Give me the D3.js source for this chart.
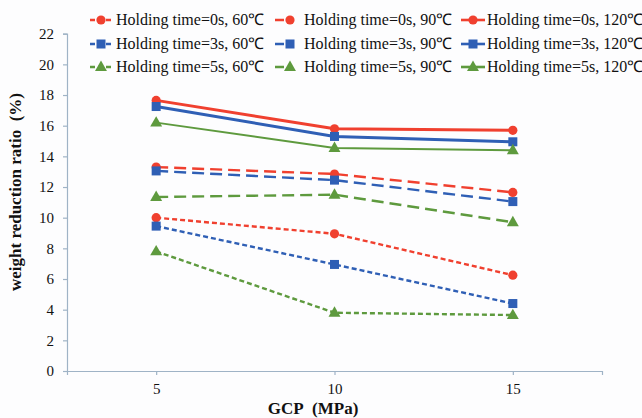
<!DOCTYPE html>
<html>
<head>
<meta charset="utf-8">
<script src="https://cdn.jsdelivr.net/npm/d3@7"></script>
<style>
  body { margin: 0; background: #fdfdfe; }
  svg { display: block; font-family: "Liberation Serif", "Times New Roman", serif; }
</style>
</head>
<body>
<svg id="chart" width="642" height="418"></svg>
<script>
// categories on the x axis (GCP, MPa)
var gcp = [5, 10, 15];

// weight reduction ratio (%) per holding time and temperature
var t0s60 = [10.0, 8.95, 6.25];
var t3s60 = [9.45, 6.95, 4.4];
var t5s60 = [7.8, 3.8, 3.65];
var t0s90 = [13.3, 12.85, 11.65];
var t3s90 = [13.05, 12.45, 11.05];
var t5s90 = [11.35, 11.5, 9.7];
var t0s120 = [17.65, 15.8, 15.7];
var t3s120 = [17.25, 15.3, 14.95];
var t5s120 = [16.2, 14.55, 14.4];

var yTicks = [0, 2, 4, 6, 8, 10, 12, 14, 16, 18, 20, 22];

var red = "#f0402f", blue = "#2f5fb5", green = "#5e9a3e";

// series list, legend is read in this order (row by row)
var series = [
  {name: "Holding time=0s, 60\u2103", values: t0s60, color: red, shape: "circle", dash: "5,3", row: 0, col: 0},
  {name: "Holding time=0s, 90\u2103", values: t0s90, color: red, shape: "circle", dash: "12,6", row: 0, col: 1},
  {name: "Holding time=0s, 120\u2103", values: t0s120, color: red, shape: "circle", dash: null, row: 0, col: 2},
  {name: "Holding time=3s, 60\u2103", values: t3s60, color: blue, shape: "square", dash: "5,3", row: 1, col: 0},
  {name: "Holding time=3s, 90\u2103", values: t3s90, color: blue, shape: "square", dash: "12,6", row: 1, col: 1},
  {name: "Holding time=3s, 120\u2103", values: t3s120, color: blue, shape: "square", dash: null, row: 1, col: 2},
  {name: "Holding time=5s, 60\u2103", values: t5s60, color: green, shape: "triangle", dash: "5,3", row: 2, col: 0},
  {name: "Holding time=5s, 90\u2103", values: t5s90, color: green, shape: "triangle", dash: "12,6", row: 2, col: 1},
  {name: "Holding time=5s, 120\u2103", values: t5s120, color: green, shape: "triangle", dash: null, row: 2, col: 2}
];

var svg = d3.select("#chart");

// plot area
var plotLeft = 67, plotRight = 602, plotTop = 33.7, plotBottom = 371;

var x = d3.scalePoint()
  .domain(gcp)
  .range([plotLeft, plotRight])
  .padding(0.5);

var y = d3.scaleLinear()
  .domain([0, 22])
  .range([plotBottom, plotTop]);

// y axis
var yAxis = svg.append("g")
  .attr("transform", "translate(" + plotLeft + ",0)")
  .call(d3.axisLeft(y).tickValues(yTicks).tickSize(4).tickPadding(9));

// x axis
var xAxis = svg.append("g")
  .attr("transform", "translate(0," + plotBottom + ")")
  .call(d3.axisBottom(x).tickSize(4).tickPadding(8).tickSizeOuter(4));

svg.selectAll(".tick text")
  .style("font-family", "'Liberation Serif', serif")
  .style("font-size", "15px")
  .attr("fill", "#111");
svg.selectAll(".domain, .tick line").attr("stroke", "#9fb3c6").attr("stroke-width", 1.2);

// axis titles
svg.append("text")
  .attr("x", 313).attr("y", 414)
  .attr("text-anchor", "middle")
  .style("font-size", "17px").style("font-weight", "bold")
  .attr("fill", "#111")
  .text("GCP\u00a0\u00a0(MPa)");

svg.append("text")
  .attr("transform", "translate(21,192) rotate(-90)")
  .attr("text-anchor", "middle")
  .style("font-size", "17px").style("font-weight", "bold")
  .attr("fill", "#111")
  .text("weight reduction ratio\u00a0\u00a0(%)");

// draws one marker
function marker(g, shape, color, cx, cy) {
  if (shape == "circle") {
    g.append("circle").attr("cx", cx).attr("cy", cy).attr("r", 4.6).attr("fill", color);
  } else if (shape == "square") {
    g.append("rect").attr("x", cx - 4.5).attr("y", cy - 4.5)
      .attr("width", 9).attr("height", 9).attr("fill", color);
  } else {
    g.append("path")
      .attr("d", d3.symbol(d3.symbolTriangle, 62)())
      .attr("transform", "translate(" + cx + "," + (cy + 0.5) + ")")
      .attr("fill", color);
  }
}

var line = d3.line()
  .x(function(d, i) { return x(gcp[i]); })
  .y(function(d) { return y(d); });

// lines and markers
series.forEach(function(s) {
  var g = svg.append("g");
  g.append("path")
    .attr("d", line(s.values))
    .attr("fill", "none")
    .attr("stroke", s.color)
    .attr("stroke-width", s.dash ? 2.4 : (s.color == green ? 2 : 3))
    .attr("stroke-dasharray", s.dash);
  s.values.forEach(function(v, i) {
    marker(g, s.shape, s.color, x(gcp[i]), y(v));
  });
});

// legend
var colX = [[90, 112, 101, 116], [275, 292, 290, 304], [461, 485, 473, 487]];
var rowY = [20, 44, 67];
series.forEach(function(s) {
  var c = colX[s.col], ly = rowY[s.row];
  var g = svg.append("g");
  g.append("line")
    .attr("x1", c[0]).attr("x2", c[1])
    .attr("y1", ly).attr("y2", ly)
    .attr("stroke", s.color)
    .attr("stroke-width", s.dash ? 2.4 : 2.6)
    .attr("stroke-dasharray", s.dash ? (s.col == 0 ? "5,3" : "9,6") : null);
  marker(g, s.shape, s.color, c[2], ly);
  g.append("text")
    .attr("x", c[3]).attr("y", ly + 5)
    .style("font-size", "16px")
    .attr("fill", "#111")
    .text(s.name);
});
</script>
</body>
</html>
